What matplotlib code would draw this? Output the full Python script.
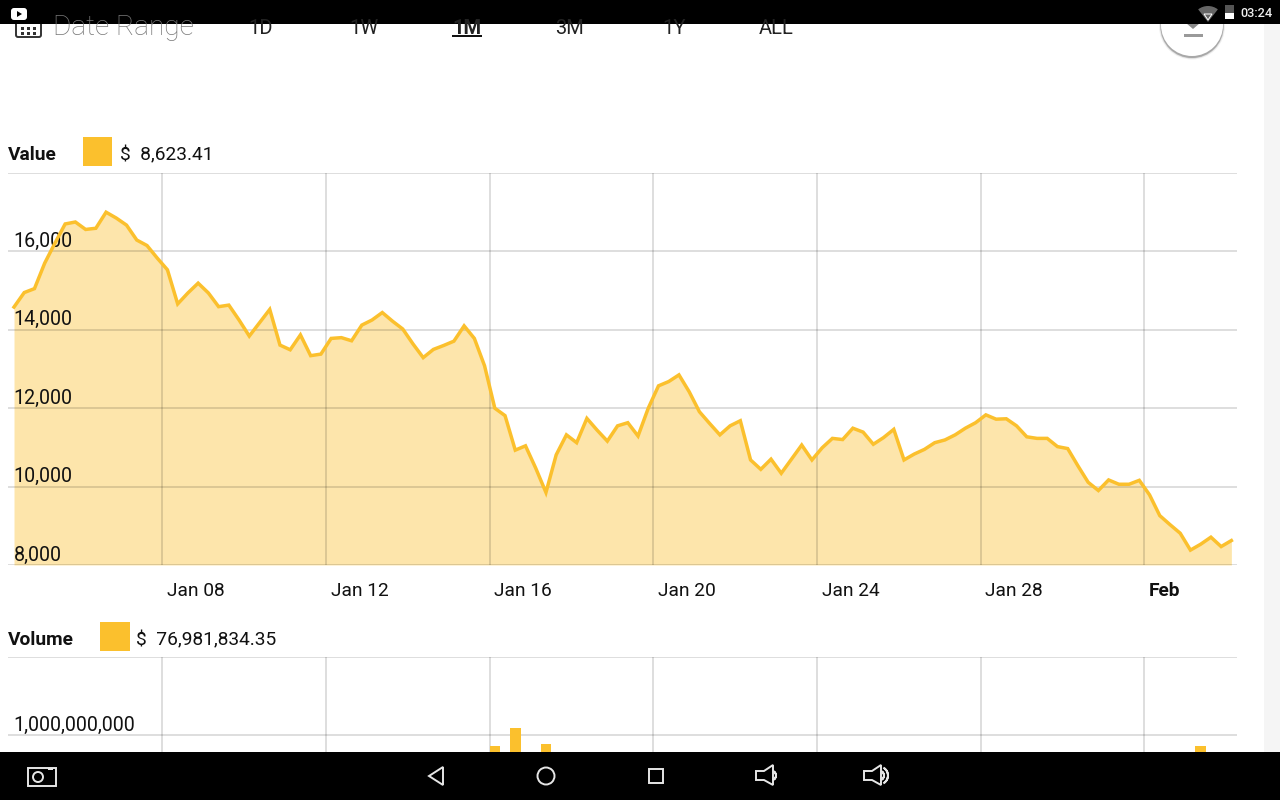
import numpy as np
import pandas as pd
import matplotlib
matplotlib.use('Agg')
import matplotlib.pyplot as plt
import matplotlib.dates as mdates
from matplotlib.patches import Rectangle, Circle, Polygon, FancyBboxPatch, Wedge
from matplotlib.transforms import ScaledTranslation

plt.rcParams['font.family'] = ['Roboto', 'DejaVu Sans']

YELLOW = '#FBC02D'

# one point every 6 hours
times = pd.date_range('2018-01-04 09:00', periods=120, freq='6h')

values = [14580, 14950, 15050, 15700, 16210, 16700, 16750, 16560, 16590, 17000,
          16850, 16670, 16290, 16150, 15830, 15530, 14660, 14940, 15190, 14940,
          14590, 14630, 14250, 13840, 14180, 14520, 13610, 13490, 13870, 13340,
          13380, 13780, 13800, 13720, 14120, 14250, 14440, 14220, 14020, 13640,
          13290, 13500, 13600, 13710, 14100, 13780, 13080, 12000, 11810, 10930,
          11040, 10470, 9850, 10810, 11320, 11120, 11740, 11440, 11160, 11550,
          11630, 11290, 12000, 12570, 12680, 12850, 12420, 11910, 11610, 11320,
          11550, 11680, 10680, 10440, 10700, 10340, 10700, 11060, 10680, 10990,
          11230, 11200, 11490, 11390, 11080, 11250, 11460, 10680, 10830, 10950,
          11120, 11190, 11320, 11490, 11630, 11830, 11720, 11730, 11550, 11270,
          11230, 11230, 11020, 10970, 10530, 10110, 9900, 10170, 10060, 10060,
          10160, 9790, 9260, 9030, 8810, 8380, 8530, 8710, 8470, 8623.41]

# only the bars tall enough to show above the nav bar
volume_idx = [47, 49, 52, 116]
volume_vals = [0.86e9, 1.09e9, 0.885e9, 0.86e9]

value_ticks = [8000, 10000, 12000, 14000, 16000, 18000]
value_labels = ['8,000', '10,000', '12,000', '14,000', '16,000', '']
volume_ticks = [1e9, 2e9]
volume_labels = ['1,000,000,000', '']
date_ticks = pd.to_datetime(['2018-01-08', '2018-01-12', '2018-01-16', '2018-01-20',
                             '2018-01-24', '2018-01-28', '2018-02-01'])
date_labels = ['Jan 08', 'Jan 12', 'Jan 16', 'Jan 20', 'Jan 24', 'Jan 28', 'Feb']

tabs = ['1D', '1W', '1M', '3M', '1Y', 'ALL']
tab_x = [261, 364, 467, 570, 674, 776]

W, H = 1280, 800
fig = plt.figure(figsize=(W / 100, H / 100), dpi=100, facecolor='white')


def px_axes(x0, y0, x1, y1):
    return fig.add_axes([x0 / W, 1 - y1 / H, (x1 - x0) / W, (y1 - y0) / H])


def style_axes(ax, yticks, ylabels):
    dt = mdates.date2num(times)
    day_px = 40.92
    ax.set_xlim(dt[0] - 6 / day_px, dt[0] + (1237 - 14) / day_px)
    ax.set_xticks(date_ticks)
    ax.set_yticks(yticks)
    ax.grid(True, color='black', alpha=0.15, lw=1.25)
    ax.set_axisbelow('line')
    ax.patch.set_alpha(0)
    for s in ax.spines.values():
        s.set_visible(False)
    ax.tick_params(length=0)
    ax.tick_params(axis='y', pad=0)
    ax.set_yticklabels(ylabels, fontsize=14.1, color='#111111', ha='left', va='center')
    # labels sit inside the plot, just above their gridline
    shift = ScaledTranslation(5.5 / 100, 10 / 100, fig.dpi_scale_trans)
    for lab in ax.get_yticklabels():
        lab.set_transform(lab.get_transform() + shift)


# value panel
ax = px_axes(8, 173, 1237, 565)
ax.fill_between(times, values, 8000, color=YELLOW, alpha=0.4, lw=0, zorder=1)
ax.plot(times, values, color=YELLOW, lw=2.5, zorder=3, solid_joinstyle='miter')
ax.set_ylim(8000, 18000)
style_axes(ax, value_ticks, value_labels)
ax.tick_params(axis='x', pad=12)
ax.set_xticklabels(date_labels, fontsize=13.8, color='#111111', ha='left')
shift_x = ScaledTranslation(4.5 / 100, 0, fig.dpi_scale_trans)
for lab in ax.get_xticklabels():
    lab.set_transform(lab.get_transform() + shift_x)
ax.get_xticklabels()[-1].set_fontweight('bold')

# volume panel, runs on behind the nav bar
ax2 = px_axes(8, 657, 1237, 813)
ax2.bar(times[volume_idx], volume_vals, width=10.5 / 40.92, color=YELLOW, zorder=3)
ax2.set_ylim(0, 2e9)
style_axes(ax2, volume_ticks, volume_labels)
ax2.set_xticklabels([])

# screen furniture, in pixel coordinates
ui = fig.add_axes([0, 0, 1, 1], zorder=5)
ui.set_xlim(0, W)
ui.set_ylim(H, 0)
ui.axis('off')

ui.add_patch(Rectangle((1264, 24), 16, 728, color='#f5f5f5', lw=0))

ui.text(8, 155, 'Value', fontsize=13.8, fontweight='bold', va='center', color='#111111')
ui.add_patch(Rectangle((83, 137), 29, 29, color=YELLOW, lw=0))
ui.text(119.5, 155, '$  8,623.41', fontsize=13.8, va='center', color='#111111')
ui.text(8, 640, 'Volume', fontsize=13.8, fontweight='bold', va='center', color='#111111')
ui.add_patch(Rectangle((100, 622), 30, 29, color=YELLOW, lw=0))
ui.text(136.5, 640, '$  76,981,834.35', fontsize=13.8, va='center', color='#111111')

# date range row, cut off by the status bar
ui.text(53, 35, 'Date Range', fontsize=20.2, fontweight='light', color='#777777', va='baseline')
for t, x in zip(tabs, tab_x):
    ui.text(x, 34.5, t, fontsize=14.5, ha='center', va='baseline', color='#222222',
            fontweight='bold' if t == '1M' else 'normal')
ui.add_patch(Rectangle((452, 35), 30, 1.6, color='#111111', lw=0))
ui.add_patch(FancyBboxPatch((16, 20), 25, 17, boxstyle='round,pad=0,rounding_size=2',
                            fc='none', ec='#333333', lw=1.4))
for dx in (21, 27, 33):
    for dy in (28, 33):
        ui.add_patch(Rectangle((dx, dy - 1.5), 3, 3, color='#333333', lw=0))

# download button
for r, a in ((33, 0.06), (32, 0.12), (31.5, 0.2)):
    ui.add_patch(Circle((1192, 26.5), r, color='black', alpha=a, lw=0))
ui.add_patch(Circle((1192, 25), 31, color='white', lw=0))
ui.add_patch(Rectangle((1184, 33.5), 19, 3.5, color='#9a9a9a', lw=0))
ui.add_patch(Polygon([(1186, 23), (1200, 23), (1193, 29)], color='#8a8a8a', lw=0))

# status and nav bars
ui.add_patch(Rectangle((0, 0), W, 24, color='black', lw=0))
ui.add_patch(Rectangle((0, 752), W, 48, color='black', lw=0))
ui.add_patch(FancyBboxPatch((11, 8), 16, 12, boxstyle='round,pad=0,rounding_size=3', color='white', lw=0))
ui.add_patch(Polygon([(17, 11), (17, 17), (22, 14)], color='black', lw=0))
ui.add_patch(Wedge((1208, 22), 16, 232, 308, color='#666666', lw=0))
ui.add_patch(Polygon([(1204, 14), (1212, 14), (1208, 20)], fc='none', ec='white', lw=0.7))
ui.add_patch(Rectangle((1225, 5), 9, 8, color='#555555', lw=0))
ui.add_patch(Rectangle((1225, 13), 9, 6, color='white', lw=0))
ui.text(1240.5, 13.5, '03:24', fontsize=9.2, fontweight='medium', color='#eeeeee', va='center')

nav = dict(fc='none', ec='#e6e6e6', lw=1.4)
ui.add_patch(Rectangle((28, 768), 28, 18, **nav))
ui.add_patch(Circle((38, 777), 5, **nav))
ui.add_patch(Rectangle((48, 768), 5, 2, color='#e6e6e6', lw=0))
ui.add_patch(Polygon([(443, 767), (443, 785), (429, 776)], **nav))
ui.add_patch(Circle((546, 776), 8.5, **nav))
ui.add_patch(Rectangle((649, 769), 14, 14, **nav))
for x0 in (756, 864):
    ui.add_patch(Polygon([(x0, 771), (x0 + 8, 771), (x0 + 17, 765), (x0 + 17, 785),
                          (x0 + 8, 780), (x0, 780)], **nav))
ui.add_patch(Wedge((771, 775.5), 5, -55, 55, width=0.1, **nav))
ui.add_patch(Wedge((879, 775.5), 5, -55, 55, width=0.1, **nav))
ui.add_patch(Wedge((879, 775.5), 9, -55, 55, width=0.1, **nav))

fig.savefig('out.png', dpi=100, facecolor='white')
